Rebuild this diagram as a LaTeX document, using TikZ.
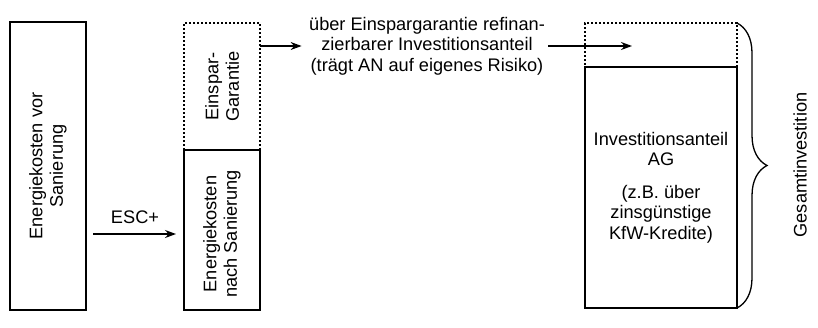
\documentclass[tikz,border=0pt]{standalone}
\usepackage{fontspec}
\setmainfont{Liberation Sans}
\usetikzlibrary{positioning, arrows.meta, decorations.pathreplacing}
\tikzset{
x=1pt, y=-1pt, % units follow the pixel grid of the sketch, y runs downwards
font=\fontsize{18.2}{20.5}\selectfont, % Arial-like text everywhere
kosten/.style={draw, line width=2.8pt, minimum width=76pt, inner sep=0pt, outer sep=0pt, align=center}, % solid cost bars
garantie/.style={draw, dotted, line width=2pt, minimum width=76pt, inner sep=0pt, outer sep=0pt}, % dotted guarantee part
hochtext/.style={rotate=90, align=center}, % text that reads bottom to top
pfeil/.style={-{Stealth[length=11pt, width=8pt]}, line width=1.3pt}, % thin arrows
klammer/.style={decorate, decoration={brace, amplitude=30pt}, line width=1.3pt}, % curly brace on the right
}

\begin{document}
\begin{tikzpicture}
\useasboundingbox (0,0) rectangle (818,327);

% costs before the refurbishment
\node[kosten, minimum height=288pt] (vor) at (48,166) {};
\node[hochtext] (vorText) at (vor.center) {Energiekosten vor\\Sanierung};

% costs after the refurbishment plus guarantee
\node[garantie, minimum height=127pt] (gar) at (222,86.5) {};
\node[kosten, minimum height=160pt, below=0pt of gar] (nach) {};
\node[hochtext] (garText) at (gar.center) {Einspar-\\Garantie};
\node[hochtext] (nachText) at ([yshift=-4pt]nach.center) {Energiekosten\\nach Sanierung};

% investment column
\node[garantie, minimum width=152pt, minimum height=44pt] (gar2) at (661,45) {};
\node[kosten, minimum width=152pt, minimum height=241pt, below=0pt of gar2] (ag)
  {Investitionsanteil\\AG\\[12pt](z.B. über\\zinsgünstige\\KfW-Kredite)};

\node[align=center] (refi) at (427,46) {über Einspargarantie refinan-\\zierbarer Investitionsanteil\\(trägt AN auf eigenes Risiko)};
\coordinate (ziel) at (632,46);
\coordinate (escEnd) at ([yshift=-4pt]nach.west);

\draw[pfeil, shorten <=7pt, shorten >=8pt] (vor.east |- escEnd) -- node[above=6pt] (esc) {ESC+} (escEnd);
\draw[pfeil, shorten >=4pt] (gar.east |- refi) -- (refi.west);
\draw[pfeil] (refi.east) -- (ziel);

\draw[klammer] (gar2.north east) -- (ag.south east);
\node[rotate=90] (gesamt) at (800,165) {Gesamtinvestition};
\end{tikzpicture}
\end{document}
